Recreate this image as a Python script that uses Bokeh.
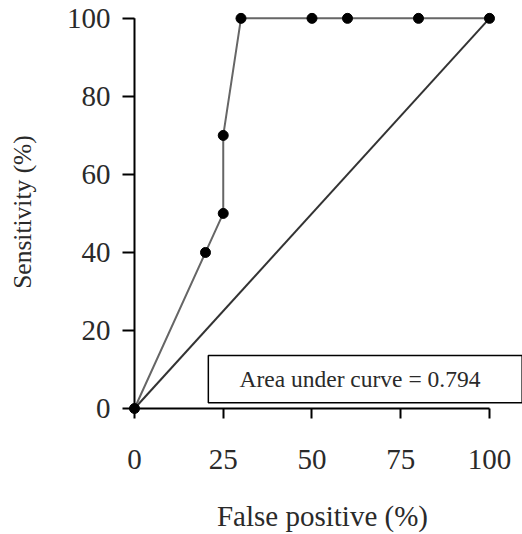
from bokeh.plotting import figure
from bokeh.models import Range1d, FixedTicker
from bokeh.embed import file_html
from bokeh.resources import INLINE
from bokeh.core.properties import value

# Data
fpr = [0, 20, 25, 25, 30, 50, 60, 80, 100]
sens = [0, 40, 50, 70, 100, 100, 100, 100, 100]
diag_x = [0, 100]
diag_y = [0, 100]
x_ticks = [0, 25, 50, 75, 100]
y_ticks = [0, 20, 40, 60, 80, 100]
auc_text = "Area under curve = 0.794"

FONT = "Liberation Serif"
TXT = "#2a2a2a"

p = figure(width=522, height=534, output_backend="svg", toolbar_location=None,
           x_range=Range1d(-3.38, 109.3), y_range=Range1d(-2.56, 103.3),
           min_border_left=122, min_border_right=0, min_border_top=5, min_border_bottom=116)
p.outline_line_color = None
p.grid.visible = False
p.background_fill_color = "white"
p.border_fill_color = "white"

# annotation box
p.quad(left=[20.8], right=[109.2], bottom=[1.5], top=[13.6],
       fill_color="white", line_color="black", line_width=1.5)
p.text(x=[63.5], y=[7.5], text=[auc_text], text_font=value(FONT), text_font_size="23.5px",
       text_align="center", text_baseline="middle", text_color=TXT)

# axis lines spanning the tick range
p.segment(x0=[x_ticks[0], 0], y0=[0, y_ticks[0]], x1=[x_ticks[-1], 0], y1=[0, y_ticks[-1]],
          line_color="black", line_width=2)

p.line(diag_x, diag_y, line_color="#333333", line_width=2)
p.line(fpr, sens, line_color="#666666", line_width=2)
p.scatter(fpr, sens, size=10, color="black")

for ax in (p.xaxis[0], p.yaxis[0]):
    ax.axis_line_color = None
    ax.major_tick_line_color = "black"
    ax.major_tick_line_width = 2
    ax.major_tick_out = 0
    ax.minor_tick_line_color = None
    ax.major_label_text_font = FONT
    ax.major_label_text_font_size = "29px"
    ax.major_label_text_color = TXT
    ax.axis_label_text_font = FONT
    ax.axis_label_text_font_style = "normal"
    ax.axis_label_text_color = TXT

p.xaxis.ticker = FixedTicker(ticks=x_ticks)
p.yaxis.ticker = FixedTicker(ticks=y_ticks)
p.xaxis.major_tick_in = 10
p.yaxis.major_tick_in = 12
p.xaxis.major_label_standoff = 31
p.yaxis.major_label_standoff = 12
p.xaxis.axis_label = "False positive (%)"
p.yaxis.axis_label = "Sensitivity (%)"
p.xaxis.axis_label_text_font_size = "29px"
p.yaxis.axis_label_text_font_size = "25.5px"
p.xaxis.axis_label_standoff = 28
p.yaxis.axis_label_standoff = 27

open("out.html", "w").write(file_html(p, INLINE))
